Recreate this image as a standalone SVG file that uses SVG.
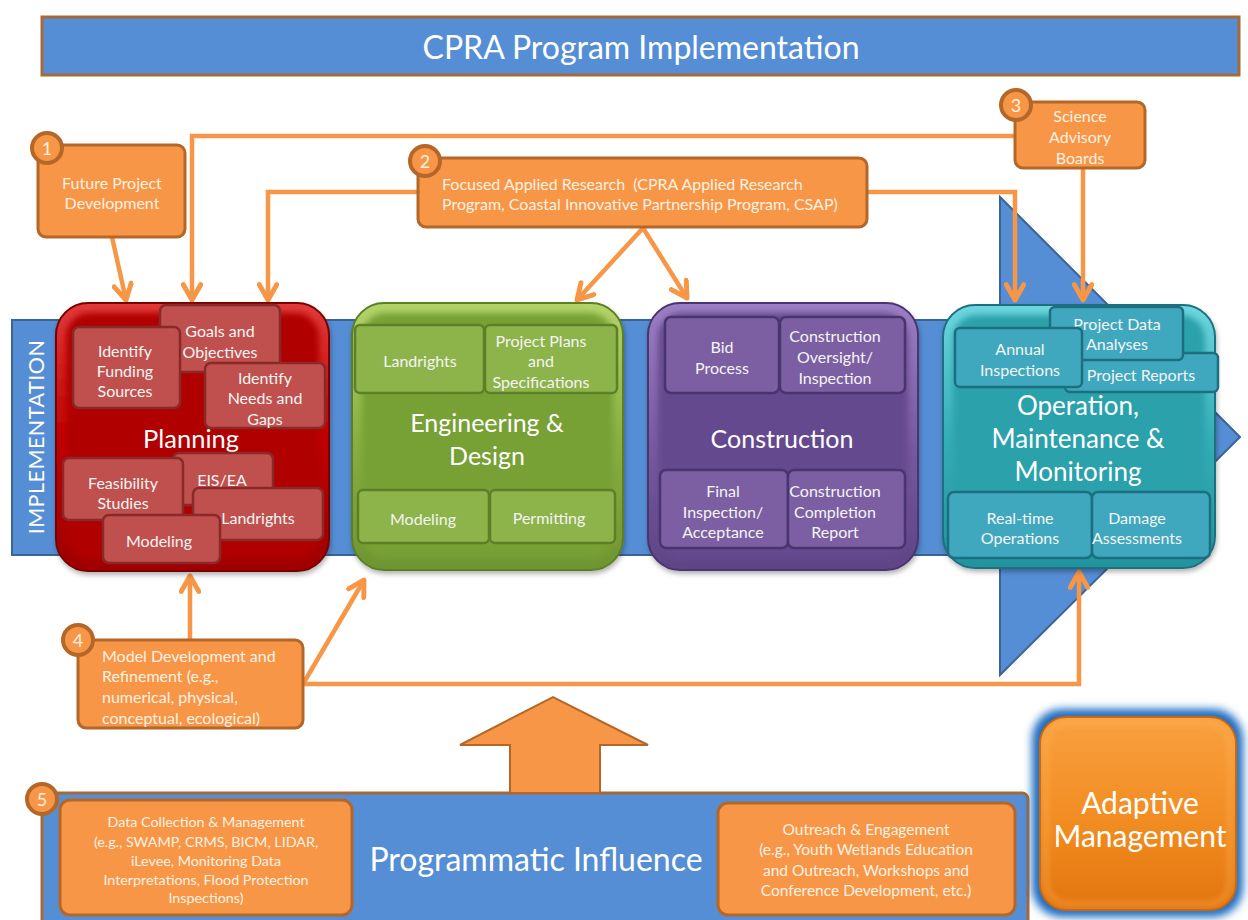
<svg xmlns="http://www.w3.org/2000/svg" width="1248" height="920" viewBox="0 0 1248 920">
<defs>
<style>
text{font-family:Lato,"Open Sans","Liberation Sans",sans-serif;fill:#ffffff;text-anchor:middle;dominant-baseline:central}
.ot{fill:#FFF1E4;font-size:16px}
.ob{fill:#F79646;stroke:#B5672A;stroke-width:3}
.num{fill:#F79646;stroke:#B5672A;stroke-width:4}
.numt{font-size:18px;fill:#FFF1E4}
.conn{fill:none;stroke:#F79646;stroke-width:4.5;stroke-linejoin:miter}
.arr{marker-end:url(#ah)}
.it{font-size:16px;fill:#F4F4F4}
.rb{fill:#C0504D;stroke:#8A2A28;stroke-width:2.5}
.gb{fill:#8DB44B;stroke:#5C7F28;stroke-width:2.5}
.pb{fill:#7C5FA3;stroke:#4A3470;stroke-width:2.5}
.tb{fill:#3FA8BF;stroke:#1D6F80;stroke-width:2.5}
.title{font-size:25px}
</style>
<marker id="ah" viewBox="0 0 20 20" refX="17" refY="10" markerWidth="22" markerHeight="22" markerUnits="userSpaceOnUse" orient="auto">
<path d="M3,2 L17,10 L3,18" fill="none" stroke="#F79646" stroke-width="4.5" stroke-linecap="round" stroke-linejoin="round"/>
</marker>
<linearGradient id="gRed" x1="0" y1="0" x2="0" y2="1"><stop offset="0" stop-color="#E23A3A"/><stop offset="0.5" stop-color="#C00000"/><stop offset="1" stop-color="#9E0000"/></linearGradient>
<linearGradient id="gGreen" x1="0" y1="0" x2="0" y2="1"><stop offset="0" stop-color="#B3D46A"/><stop offset="0.5" stop-color="#8AB043"/><stop offset="1" stop-color="#6E9530"/></linearGradient>
<linearGradient id="gPurple" x1="0" y1="0" x2="0" y2="1"><stop offset="0" stop-color="#9C7FC4"/><stop offset="0.5" stop-color="#7A5BA2"/><stop offset="1" stop-color="#5E4485"/></linearGradient>
<linearGradient id="gTeal" x1="0" y1="0" x2="0" y2="1"><stop offset="0" stop-color="#6ED6DE"/><stop offset="0.5" stop-color="#35AEB8"/><stop offset="1" stop-color="#23949E"/></linearGradient>
<linearGradient id="gOrange" x1="0" y1="0" x2="0" y2="1"><stop offset="0" stop-color="#F9A040"/><stop offset="0.6" stop-color="#F08A1E"/><stop offset="1" stop-color="#E2740E"/></linearGradient>
<filter id="soft" x="-10%" y="-10%" width="120%" height="120%"><feGaussianBlur stdDeviation="3"/></filter>
<filter id="glow" x="-10%" y="-10%" width="120%" height="120%"><feGaussianBlur stdDeviation="4"/></filter>
<filter id="sh" x="-5%" y="-5%" width="115%" height="120%"><feDropShadow dx="1" dy="3" stdDeviation="2.5" flood-color="#000" flood-opacity="0.3"/></filter>
</defs>

<rect width="1248" height="920" fill="#ffffff"/>

<g id="banner">
<rect x="42" y="17" width="1197" height="58" fill="#558ED5" stroke="#A5693A" stroke-width="3"/>
<text x="641" y="46" style="font-size:32px">CPRA Program Implementation</text>
</g>

<g id="implementation-band">
<polygon points="12,320 1000,320 1000,197 1240,437 1000,675 1000,555 12,555" fill="#558ED5" stroke="#3A6496" stroke-width="2"/>
<text transform="translate(36,437) rotate(-90)" style="font-size:21.5px;letter-spacing:0.5px">IMPLEMENTATION</text>
</g>

<g id="programmatic-influence">
<rect x="42" y="793" width="986" height="135" rx="6" fill="#558ED5" stroke="#A5693A" stroke-width="3"/>
<text x="536" y="858" style="font-size:32px">Programmatic Influence</text>
</g>

<g id="big-up-arrow">
<polygon points="510,793 510,745 460,745 553,697 648,745 600,745 600,793" fill="#F79646" stroke="#B5672A" stroke-width="2"/>
</g>

<g id="connectors">
<path class="conn arr" d="M112,237 L126,300"/>
<path class="conn arr" d="M1016,136 H192 V300"/>
<path class="conn arr" d="M420,192 H268 V300"/>
<path class="conn arr" d="M865,192 H1015 V300"/>
<path class="conn arr" d="M1083,168 V300"/>
<path class="conn arr" d="M643,228 L577,300"/>
<path class="conn arr" d="M643,228 L687,298"/>
<path class="conn arr" d="M190,640 V576"/>
<path class="conn arr" d="M303,684 L364,580"/>
<path class="conn arr" d="M303,684 H1079 V572"/>
</g>

<g id="planning">
<rect x="56" y="303" width="273" height="268" rx="32" fill="url(#gRed)" stroke="#7A0000" stroke-width="2" filter="url(#sh)"/>
<rect x="66" y="313" width="253" height="246" rx="24" fill="#B00000" filter="url(#soft)"/>
<rect class="rb" x="160" y="305" width="120" height="67" rx="6"/>
<text class="it" x="220" y="330">Goals and</text>
<text class="it" x="220" y="351">Objectives</text>
<rect class="rb" x="73" y="327" width="107" height="81" rx="6"/>
<text class="it" x="125" y="350">Identify</text>
<text class="it" x="125" y="370">Funding</text>
<text class="it" x="125" y="390">Sources</text>
<rect class="rb" x="205" y="363" width="120" height="65" rx="6"/>
<text class="it" x="265" y="377">Identify</text>
<text class="it" x="265" y="397">Needs and</text>
<text class="it" x="265" y="418">Gaps</text>
<text x="191" y="438" style="font-size:25.5px">Planning</text>
<rect class="rb" x="173" y="453" width="100" height="52" rx="6"/>
<text class="it" x="222" y="479">EIS/EA</text>
<rect class="rb" x="63" y="458" width="120" height="62" rx="6"/>
<text class="it" x="123" y="482">Feasibility</text>
<text class="it" x="123" y="502">Studies</text>
<rect class="rb" x="193" y="488" width="130" height="52" rx="6"/>
<text class="it" x="258" y="517">Landrights</text>
<rect class="rb" x="103" y="515" width="117" height="48" rx="6"/>
<text class="it" x="159" y="540">Modeling</text>
</g>

<g id="engineering-design">
<rect x="352" y="303" width="271" height="267" rx="32" fill="url(#gGreen)" stroke="#5C7F28" stroke-width="2" filter="url(#sh)"/>
<rect x="362" y="313" width="251" height="245" rx="24" fill="#77A036" filter="url(#soft)"/>
<rect class="gb" x="355" y="325" width="129" height="68" rx="5"/>
<text class="it" x="420" y="360">Landrights</text>
<rect class="gb" x="485" y="325" width="132" height="68" rx="5"/>
<text class="it" x="541" y="340">Project Plans</text>
<text class="it" x="541" y="360">and</text>
<text class="it" x="541" y="381">Specifications</text>
<text class="title" x="487" y="422">Engineering &amp;</text>
<text class="title" x="487" y="455">Design</text>
<rect class="gb" x="358" y="490" width="131" height="53" rx="5"/>
<text class="it" x="423" y="518">Modeling</text>
<rect class="gb" x="490" y="490" width="125" height="53" rx="5"/>
<text class="it" x="549" y="517">Permitting</text>
</g>

<g id="construction">
<rect x="648" y="303" width="270" height="267" rx="32" fill="url(#gPurple)" stroke="#4A3470" stroke-width="2" filter="url(#sh)"/>
<rect x="658" y="313" width="250" height="245" rx="24" fill="#654A8E" filter="url(#soft)"/>
<rect class="pb" x="665" y="317" width="114" height="76" rx="6"/>
<text class="it" x="722" y="346">Bid</text>
<text class="it" x="722" y="367">Process</text>
<rect class="pb" x="780" y="317" width="125" height="76" rx="6"/>
<text class="it" x="835" y="335">Construction</text>
<text class="it" x="835" y="356">Oversight/</text>
<text class="it" x="835" y="377">Inspection</text>
<text class="title" x="782" y="438" style="font-size:25px">Construction</text>
<rect class="pb" x="660" y="470" width="128" height="78" rx="6"/>
<text class="it" x="723" y="490">Final</text>
<text class="it" x="723" y="511">Inspection/</text>
<text class="it" x="723" y="531">Acceptance</text>
<rect class="pb" x="788" y="470" width="117" height="78" rx="6"/>
<text class="it" x="835" y="490">Construction</text>
<text class="it" x="835" y="511">Completion</text>
<text class="it" x="835" y="531">Report</text>
</g>

<g id="operation-maintenance-monitoring">
<rect x="943" y="305" width="272" height="263" rx="32" fill="url(#gTeal)" stroke="#1D6F80" stroke-width="2" filter="url(#sh)"/>
<rect x="953" y="315" width="252" height="241" rx="24" fill="#2BA1AB" filter="url(#soft)"/>
<rect class="tb" x="1065" y="353" width="153" height="39" rx="5"/>
<text class="it" x="1141" y="374">Project Reports</text>
<rect class="tb" x="1050" y="307" width="133" height="53" rx="5"/>
<text class="it" x="1117" y="323">Project Data</text>
<text class="it" x="1117" y="343">Analyses</text>
<rect class="tb" x="955" y="328" width="127" height="59" rx="5"/>
<text class="it" x="1020" y="348">Annual</text>
<text class="it" x="1020" y="369">Inspections</text>
<text class="title" x="1078" y="405" style="font-size:26px">Operation,</text>
<text class="title" x="1078" y="438" style="font-size:26px">Maintenance &amp;</text>
<text class="title" x="1078" y="471" style="font-size:26px">Monitoring</text>
<rect class="tb" x="948" y="492" width="144" height="66" rx="6"/>
<text class="it" x="1020" y="517">Real-time</text>
<text class="it" x="1020" y="537">Operations</text>
<rect class="tb" x="1092" y="492" width="118" height="66" rx="6"/>
<text class="it" x="1137" y="517">Damage</text>
<text class="it" x="1137" y="537">Assessments</text>
</g>

<g id="box1-future-project">
<rect class="ob" x="38" y="145" width="147" height="92" rx="8"/>
<text class="ot" x="112" y="182">Future Project</text>
<text class="ot" x="112" y="202">Development</text>
<circle class="num" cx="47" cy="148" r="15"/>
<text class="numt" x="47" y="148">1</text>
</g>

<g id="box2-focused-research">
<rect class="ob" x="418" y="158" width="449" height="69" rx="8"/>
<text class="ot" x="442" y="183" style="text-anchor:start">Focused Applied Research &#160;(CPRA Applied Research</text>
<text class="ot" x="442" y="203" style="text-anchor:start">Program, Coastal Innovative Partnership Program, CSAP)</text>
<circle class="num" cx="425" cy="161" r="15"/>
<text class="numt" x="425" y="161">2</text>
</g>

<g id="box3-science-advisory">
<rect class="ob" x="1015" y="102" width="130" height="66" rx="8"/>
<text class="ot" x="1080" y="115">Science</text>
<text class="ot" x="1080" y="136">Advisory</text>
<text class="ot" x="1080" y="157">Boards</text>
<circle class="num" cx="1016" cy="105" r="15"/>
<text class="numt" x="1016" y="105">3</text>
</g>

<g id="box4-model-development">
<rect class="ob" x="78" y="640" width="225" height="88" rx="8"/>
<text class="ot" x="102" y="655" style="text-anchor:start">Model Development and</text>
<text class="ot" x="102" y="675" style="text-anchor:start">Refinement (e.g.,</text>
<text class="ot" x="102" y="696" style="text-anchor:start">numerical, physical,</text>
<text class="ot" x="102" y="717" style="text-anchor:start">conceptual, ecological)</text>
<circle class="num" cx="78" cy="640" r="15"/>
<text class="numt" x="78" y="640">4</text>
</g>

<g id="box5-data-collection">
<rect class="ob" x="60" y="800" width="292" height="115" rx="10"/>
<text class="ot" x="206" y="821" style="font-size:14.3px">Data Collection &amp; Management</text>
<text class="ot" x="206" y="841" style="font-size:14.3px">(e.g., SWAMP, CRMS, BICM, LIDAR,</text>
<text class="ot" x="206" y="860" style="font-size:14.3px">iLevee, Monitoring Data</text>
<text class="ot" x="206" y="879" style="font-size:14.3px">Interpretations, Flood Protection</text>
<text class="ot" x="206" y="897" style="font-size:14.3px">Inspections)</text>
<circle class="num" cx="42" cy="799" r="15"/>
<text class="numt" x="42" y="799">5</text>
</g>

<g id="outreach">
<rect class="ob" x="718" y="803" width="297" height="112" rx="10"/>
<text class="ot" x="866" y="829" style="font-size:15.5px">Outreach &amp; Engagement</text>
<text class="ot" x="866" y="849" style="font-size:15.5px">(e.g., Youth Wetlands Education</text>
<text class="ot" x="866" y="870" style="font-size:15.5px">and Outreach, Workshops and</text>
<text class="ot" x="866" y="890" style="font-size:15.5px">Conference Development, etc.)</text>
</g>

<g id="adaptive-management">
<rect x="1032" y="709" width="211" height="208" rx="30" fill="#1F6CC0" filter="url(#glow)"/>
<rect x="1040" y="717" width="196" height="193" rx="26" fill="url(#gOrange)" stroke="#C8650C" stroke-width="2"/>
<rect x="1046" y="723" width="184" height="181" rx="22" fill="none" stroke="#FDBF6A" stroke-width="3" opacity="0.6" filter="url(#soft)"/>
<text x="1140" y="802" style="font-size:30px">Adaptive</text>
<text x="1140" y="835" style="font-size:30px">Management</text>
</g>
</svg>
